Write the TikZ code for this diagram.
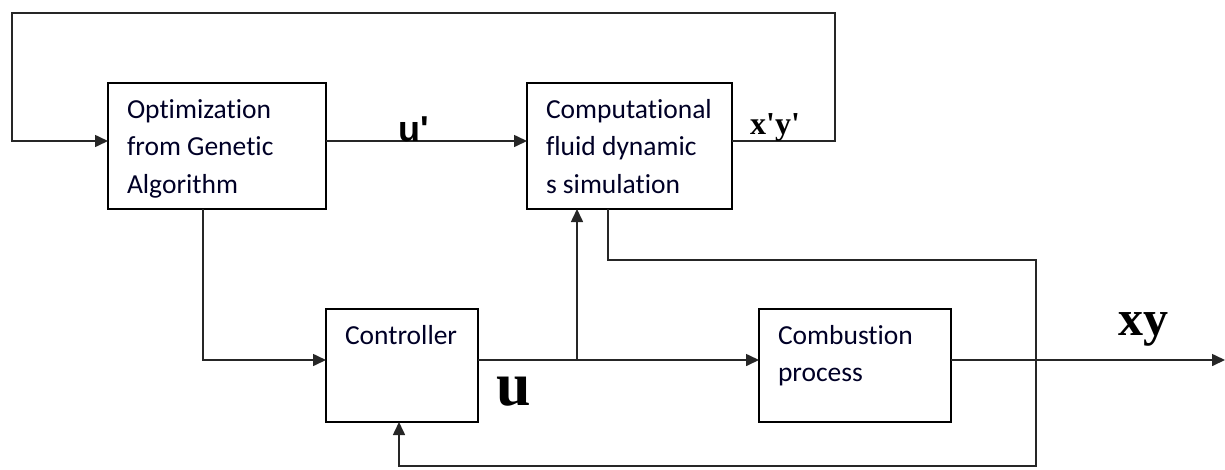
\documentclass[tikz,border=0pt]{standalone}
\usepackage{fontspec}
\setmainfont{Carlito}[Ligatures={NoCommon}]
\newfontfamily\armfont{Liberation Sans}
\newfontfamily\tmsfont{Liberation Serif}
\usetikzlibrary{arrows.meta}
\tikzset{
  blk/.style={draw, line width=1.6pt, inner sep=0pt, outer sep=0pt, anchor=north west, text=black!85!blue},
  conn/.style={line width=1.6pt, draw=black!85},
  arr/.style={conn, -{Triangle[length=13pt,width=12pt]}},
  sig/.style={inner sep=0pt, anchor=base west}
}
\newcommand{\blktext}[3]{\parbox[c][#2pt][t]{#1pt}{\fontsize{27.5}{37.5}\selectfont\raggedright\leftskip=19pt\rule{0pt}{35pt}#3}}
\begin{document}
\begin{tikzpicture}[x=1pt,y=-1pt]
\useasboundingbox (0,0) rectangle (1225,469);
% boxes
\node[blk] (opt) at (108,83) {\blktext{218}{126}{Optimization\\from Genetic\\Algorithm}};
\node[blk] (cfd) at (527,83) {\blktext{205}{126}{Computational\\fluid dynamic\\s simulation}};
\node[blk] (ctrl) at (326,309) {\blktext{152}{113}{Controller}};
\node[blk] (comb) at (759,309) {\blktext{192}{113}{Combustion\\process}};
% helper coordinates
\coordinate (topy) at (0,141);
\coordinate (ctly) at (0,360);
\coordinate (loopr) at (835,13);
\coordinate (loopl) at (12,13);
\coordinate (optdn) at (203,209);
\coordinate (junc) at (577,360);
\coordinate (cfddn) at (608,209);
\coordinate (fbr) at (1036,466);
\coordinate (fbl) at (399,466);
\coordinate (outend) at (1225,360);
% connectors
\draw[arr] (opt.east |- topy) -- (cfd.west |- topy);
\draw[arr] (cfd.east |- topy) -| (loopr) -- (loopl) |- (opt.west |- topy);
\draw[arr] (optdn) |- (ctrl.west |- ctly);
\draw[arr] (ctrl.east |- ctly) -- (comb.west |- ctly);
\draw[arr] (junc) -- (junc |- cfd.south);
\draw[arr] (comb.east |- ctly) -- (outend);
\draw[arr] (cfddn) -- (608,260) -| (fbr) -- (fbl) -- (fbl |- ctrl.south);
% signal labels
\node[sig, font=\armfont\bfseries\fontsize{36}{36}\selectfont] (uprime) at (398,141) {u'};
\node[sig, font=\tmsfont\bfseries\fontsize{32}{32}\selectfont] (xyprime) at (750,134) {x'y'};
\node[sig, font=\tmsfont\bfseries\fontsize{62}{62}\selectfont] (ulab) at (496,405) {u};
\node[sig, font=\tmsfont\bfseries\fontsize{50}{50}\selectfont] (xylab) at (1118,335) {xy};
\end{tikzpicture}
\end{document}
